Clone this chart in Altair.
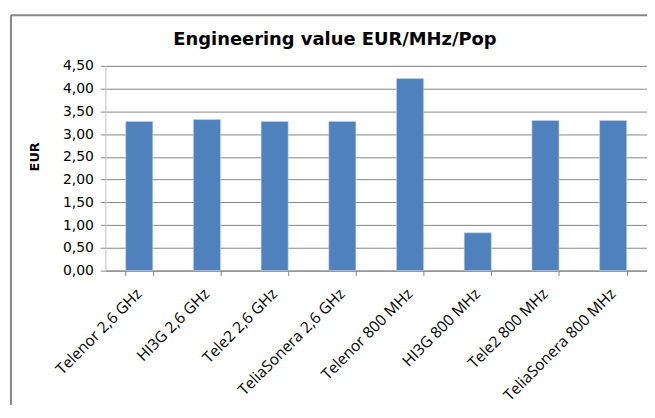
import altair as alt
import pandas as pd

categories = ["Telenor 2,6 GHz", "HI3G 2,6 GHz", "Tele2 2,6 GHz", "TeliaSonera 2,6 GHz",
              "Telenor 800 MHz", "HI3G 800 MHz", "Tele2 800 MHz", "TeliaSonera 800 MHz"]
values = [3.28, 3.32, 3.28, 3.28, 4.22, 0.83, 3.30, 3.30]
y_ticks = [0, 0.5, 1.0, 1.5, 2.0, 2.5, 3.0, 3.5, 4.0, 4.5]
title_text = "Engineering value EUR/MHz/Pop"

df = pd.DataFrame({"cat": categories, "val": values})
FONT = "DejaVu Sans"
XFONT = "Open Sans"

bars = alt.Chart(df).mark_bar(color="#4F81BD", stroke="#C6D3E6", strokeWidth=0.6).encode(
    x=alt.X("cat:N", sort=categories, title=None,
            scale=alt.Scale(paddingInner=0.6, paddingOuter=0.3),
            axis=alt.Axis(labelAngle=-45, labelAlign="right", labelBaseline="alphabetic",
                          labelFont=XFONT, labelFontSize=15.5, labelColor="#000000",
                          labelPadding=19, labelOffset=3, tickBand="extent", tickSize=5,
                          tickColor="#868686", domainColor="#868686", grid=False)),
    y=alt.Y("val:Q", title="EUR",
            scale=alt.Scale(domain=[0, 4.5], nice=False),
            axis=alt.Axis(values=y_ticks,
                          labelExpr="replace(format(datum.value, '.2f'), '.', ',')",
                          labelFont=FONT, labelFontSize=14, labelColor="#000000",
                          labelPadding=7, tickSize=5, tickColor="#868686",
                          domainColor="#D0D0D0", gridColor="#868686", gridWidth=1,
                          titleFont=FONT, titleFontSize=13, titleFontWeight="bold",
                          titleColor="#000000", titleAngle=-90, titleX=-64, titleY=91,
                          titleAlign="center", titleBaseline="bottom")),
)

one = alt.Data(values=[{"t": title_text}])
frame_left = alt.Chart(one).mark_rule(color="#888888", strokeWidth=2).encode(
    x=alt.value(-95), y=alt.value(-51), y2=alt.value(360))
frame_top = alt.Chart(one).mark_rule(color="#888888", strokeWidth=2).encode(
    y=alt.value(-51), x=alt.value(-95), x2=alt.value(560))
title = alt.Chart(one).mark_text(font=FONT, fontSize=18, fontWeight="bold", color="#000000",
                                 align="center", baseline="alphabetic").encode(
    text="t:N", x=alt.value(231), y=alt.value(-21))

chart = alt.layer(bars, frame_left, frame_top, title).properties(
    width=545, height=206,
    autosize=alt.AutoSizeParams(type="none"),
    padding={"left": 98, "top": 57, "right": 0, "bottom": 134},
).configure_view(stroke=None).configure(background="#FFFFFF")

chart.save("out.html", embed_options={"renderer": "svg", "actions": False})
